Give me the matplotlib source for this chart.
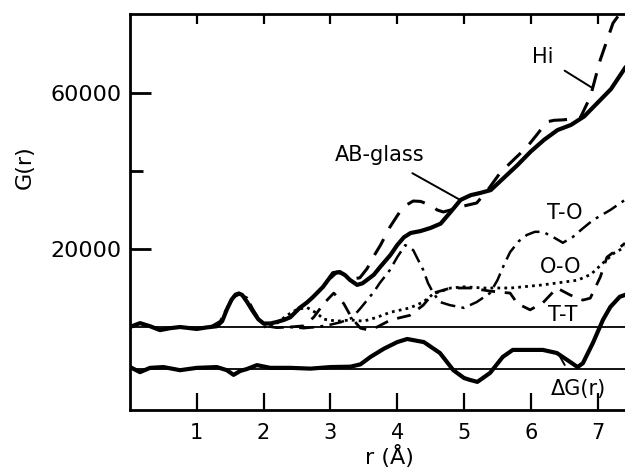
import numpy as np
import matplotlib
matplotlib.use('Agg')
import matplotlib.pyplot as plt
from matplotlib.ticker import FixedLocator

#%% data (r in Angstrom, G(r) in arbitrary units)

r_ab = [0.0, 0.15, 0.3, 0.45, 0.6, 0.75, 0.9, 1.0, 1.15, 1.3, 1.38, 1.45, 1.52, 1.58, 1.63,
        1.68, 1.75, 1.83, 1.92, 2.0, 2.1, 2.2, 2.3, 2.4, 2.54, 2.65, 2.74, 2.89, 3.04, 3.14,
        3.22, 3.29, 3.4, 3.48, 3.55, 3.65, 3.75, 3.9, 4.0, 4.1, 4.2, 4.35, 4.5, 4.65, 4.8,
        4.95, 5.1, 5.25, 5.4, 5.55, 5.8, 6.0, 6.2, 6.4, 6.6, 6.8, 7.0, 7.2, 7.41]
g_ab = [0, 1000, 200, -800, -300, 0, -300, -500, -100, 200, 1500, 4500, 7000, 8300, 8600,
        8200, 6500, 4300, 2000, 900, 900, 1300, 1800, 2500, 4900, 6300, 7700, 10300, 13800, 14100,
        13300, 12100, 10800, 11200, 12100, 13400, 15500, 18500, 21000, 23000, 24100, 24600, 25400, 26500, 29500,
        32600, 33800, 34400, 35100, 37500, 41500, 45000, 48000, 50500, 51800, 54000, 57500, 61000, 66400]

r_hi = [3.0, 3.1, 3.2, 3.3, 3.44, 3.55, 3.64, 3.75, 3.89, 4.0, 4.09, 4.24, 4.35, 4.49, 4.6,
        4.69, 4.8, 4.94, 5.19, 5.35, 5.54, 5.75, 5.94, 6.1, 6.24, 6.35, 6.48, 6.74, 6.89,
        7.04, 7.23, 7.34]
g_hi = [12500, 14100, 13500, 12300, 12600, 15000, 17900, 21000, 25600, 28500, 30800, 32300, 32200, 31300, 30000,
        29500, 30000, 30800, 31800, 35000, 39500, 43000, 46100, 49500, 52600, 53000, 53100, 53600, 59000,
        68500, 77900, 80500]

r_to = [1.2, 1.35, 1.45, 1.55, 1.65, 1.75, 1.85, 1.95, 2.05, 2.2, 2.4, 2.6, 2.8, 3.0, 3.15,
        3.32, 3.45, 3.55, 3.65, 3.74, 3.89, 4.0, 4.12, 4.24, 4.39, 4.46, 4.54, 4.64, 4.79,
        5.0, 5.19, 5.39, 5.5, 5.6, 5.69, 5.82, 5.94, 6.06, 6.18, 6.33, 6.48, 6.63, 6.78,
        6.93, 7.19, 7.41]
g_to = [0, 1500, 4800, 7600, 8500, 7500, 4300, 1500, 200, -200, 0, -300, 0, 600, 1200,
        2300, 4800, 6900, 9000, 11300, 14600, 17900, 21000, 19700, 14600, 11300, 8700, 6400, 5600,
        4900, 6400, 8700, 12000, 16000, 19200, 22000, 23600, 24400, 24400, 23100, 21600, 23100, 25300,
        27400, 30000, 32600]

r_oo = [2.0, 2.2, 2.35, 2.5, 2.65, 2.8, 2.9, 3.1, 3.3, 3.5, 3.7, 3.9, 4.19, 4.39, 4.54,
        4.8, 5.0, 5.3, 5.7, 6.18, 6.7, 6.9, 7.08, 7.25, 7.41]
g_oo = [0, 1000, 3000, 4500, 5000, 3500, 2000, 1500, 1800, 1500, 2500, 3800, 4900, 6400, 8500,
        10000, 10300, 10000, 10000, 10800, 12000, 13500, 16400, 19000, 20500]

r_tt = [2.4, 2.6, 2.75, 2.9, 3.05, 3.2, 3.32, 3.45, 3.55, 3.7, 3.9, 4.19, 4.39, 4.54, 4.8,
        5.1, 5.39, 5.69, 5.8, 5.99, 6.18, 6.39, 6.59, 6.78, 6.89, 7.04, 7.14, 7.34, 7.41]
g_tt = [0, 300, 2500, 6000, 8700, 6000, 2300, -300, -700, 0, 1800, 3000, 5600, 8700, 10000,
        10000, 9200, 8700, 6000, 4400, 6200, 10000, 8200, 6900, 7400, 12800, 17900, 20500, 21500]

# difference curve, drawn on its own shifted base line
dg_base = -10770
r_dg = [0.0, 0.15, 0.3, 0.5, 0.75, 1.0, 1.3, 1.45, 1.55, 1.65, 1.75, 1.9, 2.1, 2.4, 2.7,
        3.0, 3.3, 3.45, 3.6, 3.8, 4.0, 4.15, 4.4, 4.64, 4.84, 5.0, 5.09, 5.2, 5.39, 5.58,
        5.73, 6.18, 6.39, 6.59, 6.7, 6.78, 6.93, 7.08, 7.19, 7.33, 7.41]
dg = [500, -800, 300, 500, -300, 300, 500, -300, -1500, -500, 0, 1000, 300, 300, 100,
      500, 600, 1200, 3100, 5200, 6900, 7700, 6900, 4100, -300, -2300, -2800, -3300, -1000, 3100,
      4900, 4900, 4100, 1800, 500, 1500, 6700, 12600, 15900, 18500, 19000]

x_ticks = [1, 2, 3, 4, 5, 6, 7]
y_ticks = [20000, 60000]
y_minor = [40000]

#%% figure
plt.rcParams['font.family'] = 'DejaVu Sans'
fig = plt.figure(figsize=(6.25, 4.73), dpi=100)
ax = fig.add_axes([0.208, 0.133, 0.792, 0.837])

ax.axhline(0, color='black', lw=1.3)
ax.axhline(dg_base, color='black', lw=1.3)

ax.plot(r_oo, g_oo, color='black', lw=2.0, ls=(0, (1, 1.5)))
ax.plot(r_tt, g_tt, color='black', lw=2.0, ls=(0, (5, 3.5)))
ax.plot(r_to, g_to, color='black', lw=1.8, ls=(0, (6, 2.5, 1.2, 2.5)))
ax.plot(r_hi, g_hi, color='black', lw=2.2, ls=(0, (6, 4)))
ax.plot(r_ab, g_ab, color='black', lw=3.0)
ax.plot(r_dg, np.array(dg) + dg_base, color='black', lw=3.0)

ax.set_xlim(0, 7.41)
ax.set_ylim(-21300, 80200)

ax.set_xticks(x_ticks)
ax.set_yticks(y_ticks)
ax.set_yticklabels([str(v) for v in y_ticks])
ax.yaxis.set_minor_locator(FixedLocator(y_minor))
ax.tick_params(axis='x', direction='in', length=12, width=1.6, top=True,
               labelsize=15, pad=9)
ax.tick_params(axis='y', direction='in', length=15, width=2.0, labelsize=16, pad=6)
ax.tick_params(axis='y', which='minor', direction='in', length=9, width=2.0)
# shorter ticks along the top spine
for tl in ax.get_xticklines()[1::2]:
    tl.set_markersize(7)

for s in ['left', 'top', 'bottom']:
    ax.spines[s].set_linewidth(2.0)
ax.spines['right'].set_visible(False)

ax.set_xlabel('r (Å)', fontsize=16)
ax.xaxis.set_label_coords(0.525, -0.088)
fig.text(0.04, 0.647, 'G(r)', rotation=90, fontsize=16, ha='center', va='center')

# curve labels with their pointer lines
ax.annotate('AB-glass', xy=(4.94, 32600), xytext=(3.74, 44100), fontsize=15,
            ha='center', va='center',
            arrowprops=dict(arrowstyle='-', color='black', lw=1.4, shrinkA=8, shrinkB=0))
ax.annotate('Hi', xy=(6.93, 61200), xytext=(6.18, 69200), fontsize=15,
            ha='center', va='center',
            arrowprops=dict(arrowstyle='-', color='black', lw=1.4, shrinkA=7, shrinkB=0))
ax.text(6.51, 29200, 'T-O', fontsize=15, ha='center', va='center')
ax.text(6.44, 15400, 'O-O', fontsize=15, ha='center', va='center')
ax.text(6.48, 3100, 'T-T', fontsize=15, ha='center', va='center')
ax.annotate('ΔG(r)', xy=(6.44, -7700), xytext=(6.71, -15800), fontsize=15,
            ha='center', va='center',
            arrowprops=dict(arrowstyle='-', color='black', lw=1.4, shrinkA=9, shrinkB=0))

fig.savefig('out.png', dpi=100)
